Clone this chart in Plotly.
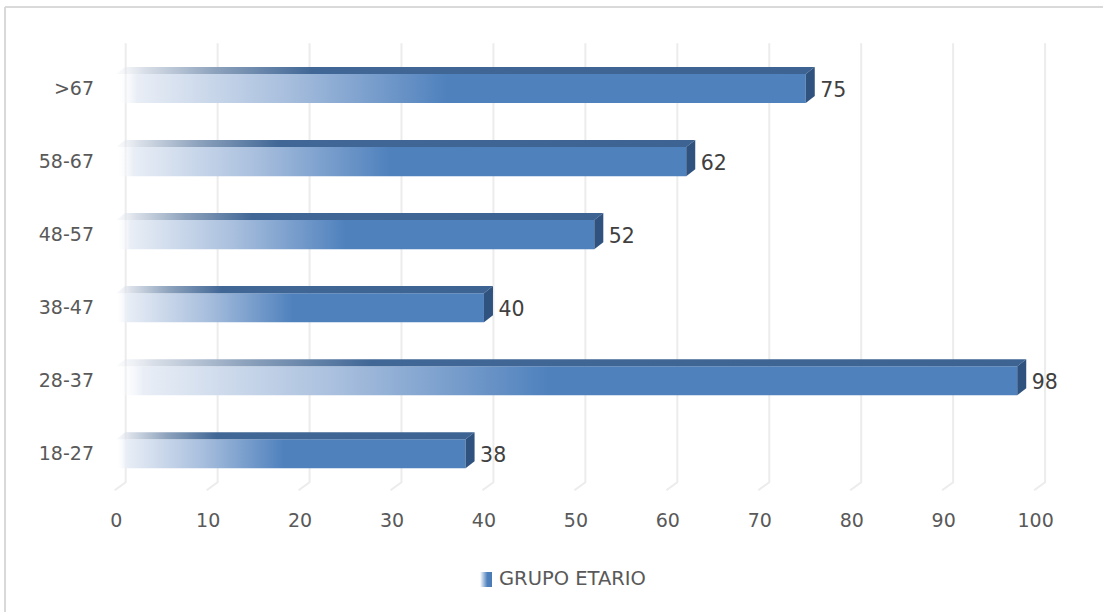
import base64
import plotly.graph_objects as go

# ---------------- data ----------------
categories = ["18-27", "28-37", "38-47", "48-57", "58-67", ">67"]
values = [38, 98, 40, 52, 62, 75]
x_ticks = list(range(0, 101, 10))
series_name = "GRUPO ETARIO"

# ---------------- style / geometry ----------------
W, H_FIG = 1103, 612
ML, MR, MT, MB = 107, 49, 36, 113
PW, PH = W - ML - MR, H_FIG - MT - MB
DX, DY, HH = 0.98, 0.096, 0.199     # 3D depth (x units, y units), half bar height
GX_BACK, GX_FRONT = 1.03, -0.16     # gridline back / floor offsets
G_TOP, G_BACK_BOT, G_FRONT_BOT = 5.62, -0.39, -0.5
TXT = "#595959"
FONT = "DejaVu Sans"

fig = go.Figure()

# back-plane gridlines with floor diagonals
gx, gy = [], []
for t in x_ticks:
    gx += [t + GX_FRONT, t + GX_BACK, t + GX_BACK, None]
    gy += [G_FRONT_BOT, G_BACK_BOT, G_TOP, None]
fig.add_trace(go.Scatter(x=gx, y=gy, mode="lines",
                         line=dict(color="#ECECEC", width=2),
                         hoverinfo="skip", showlegend=False))

for i, v in enumerate(values):
    # front face
    fig.add_trace(go.Scatter(
        x=[0, v, v, 0, 0], y=[i - HH, i - HH, i + HH, i + HH, i - HH],
        mode="none", fill="toself",
        fillgradient=dict(type="horizontal", start=0, stop=v,
                          colorscale=[[0, "rgba(255,255,255,0)"],
                                      [0.03, "#E9EEF6"],
                                      [0.25, "#A7BEDD"],
                                      [0.48, "#4F81BD"],
                                      [1, "#4F81BD"]]),
        hoverinfo="skip", showlegend=False))
    # top face
    fig.add_trace(go.Scatter(
        x=[0, v, v + DX, DX, 0],
        y=[i + HH, i + HH, i + HH + DY, i + HH + DY, i + HH],
        mode="none", fill="toself",
        fillgradient=dict(type="horizontal", start=0, stop=v + DX,
                          colorscale=[[0, "rgba(230,234,240,0.2)"],
                                      [0.04, "#D9DFE8"],
                                      [0.14, "#8EA3BD"],
                                      [0.28, "#416796"],
                                      [1, "#3D6392"]]),
        hoverinfo="skip", showlegend=False))
    # side face
    fig.add_trace(go.Scatter(
        x=[v, v + DX, v + DX, v, v],
        y=[i - HH, i - HH + DY, i + HH + DY, i + HH, i - HH],
        mode="none", fill="toself", fillcolor="#30527F",
        hoverinfo="skip", showlegend=False))

# value labels
fig.add_trace(go.Scatter(
    x=[v + DX + 0.6 for v in values], y=[i - 0.05 for i in range(len(values))],
    mode="text", text=[str(v) for v in values], textposition="middle right",
    textfont=dict(family=FONT, size=20.5, color="#404040"),
    cliponaxis=False, hoverinfo="skip", showlegend=False))

def px_x(p):
    return (p - ML) / PW

def px_y(p):
    return (H_FIG - MB - p) / PH

# legend icon (gradient swatch) + text
svg = ('<svg xmlns="http://www.w3.org/2000/svg" width="12" height="15">'
       '<defs><linearGradient id="g" x1="0" y1="0" x2="1" y2="0">'
       '<stop offset="0" stop-color="#FFFFFF"/><stop offset="0.6" stop-color="#4F81BD"/>'
       '<stop offset="1" stop-color="#4A7AB4"/></linearGradient></defs>'
       '<rect width="12" height="15" fill="url(#g)"/></svg>')
src = "data:image/svg+xml;base64," + base64.b64encode(svg.encode()).decode()
fig.add_layout_image(dict(source=src, xref="paper", yref="paper",
                          x=px_x(480), y=px_y(572), sizex=12 / PW, sizey=15 / PH,
                          xanchor="left", yanchor="top", sizing="stretch", layer="above"))
fig.add_annotation(x=px_x(497), y=px_y(578.5), xref="paper", yref="paper",
                   text=series_name, showarrow=False, xanchor="left", yanchor="middle",
                   font=dict(family=FONT, size=19.5, color=TXT))

# outer border (top & left visible)
fig.add_shape(type="line", xref="paper", yref="paper",
              x0=px_x(5), x1=px_x(W + 5), y0=px_y(7), y1=px_y(7),
              line=dict(color="#D9D9D9", width=2))
fig.add_shape(type="line", xref="paper", yref="paper",
              x0=px_x(5), x1=px_x(5), y0=px_y(7), y1=px_y(H_FIG + 5),
              line=dict(color="#D9D9D9", width=2))

fig.update_layout(
    width=W, height=H_FIG,
    margin=dict(l=ML, r=MR, t=MT, b=MB, pad=0),
    paper_bgcolor="white", plot_bgcolor="white",
    showlegend=False,
    font=dict(family=FONT, color=TXT),
    xaxis=dict(range=[-1, 102], tickvals=x_ticks, showgrid=False, zeroline=False,
               showline=False, ticks="", tickfont=dict(family=FONT, size=19, color=TXT),
               ticklabelstandoff=8, fixedrange=True),
    yaxis=dict(range=[-0.62, 5.72], tickvals=list(range(len(categories))),
               ticktext=categories, showgrid=False, zeroline=False, showline=False,
               ticks="", tickfont=dict(family=FONT, size=19, color=TXT),
               ticklabelstandoff=12, fixedrange=True),
)

fig.write_html("out.html")
